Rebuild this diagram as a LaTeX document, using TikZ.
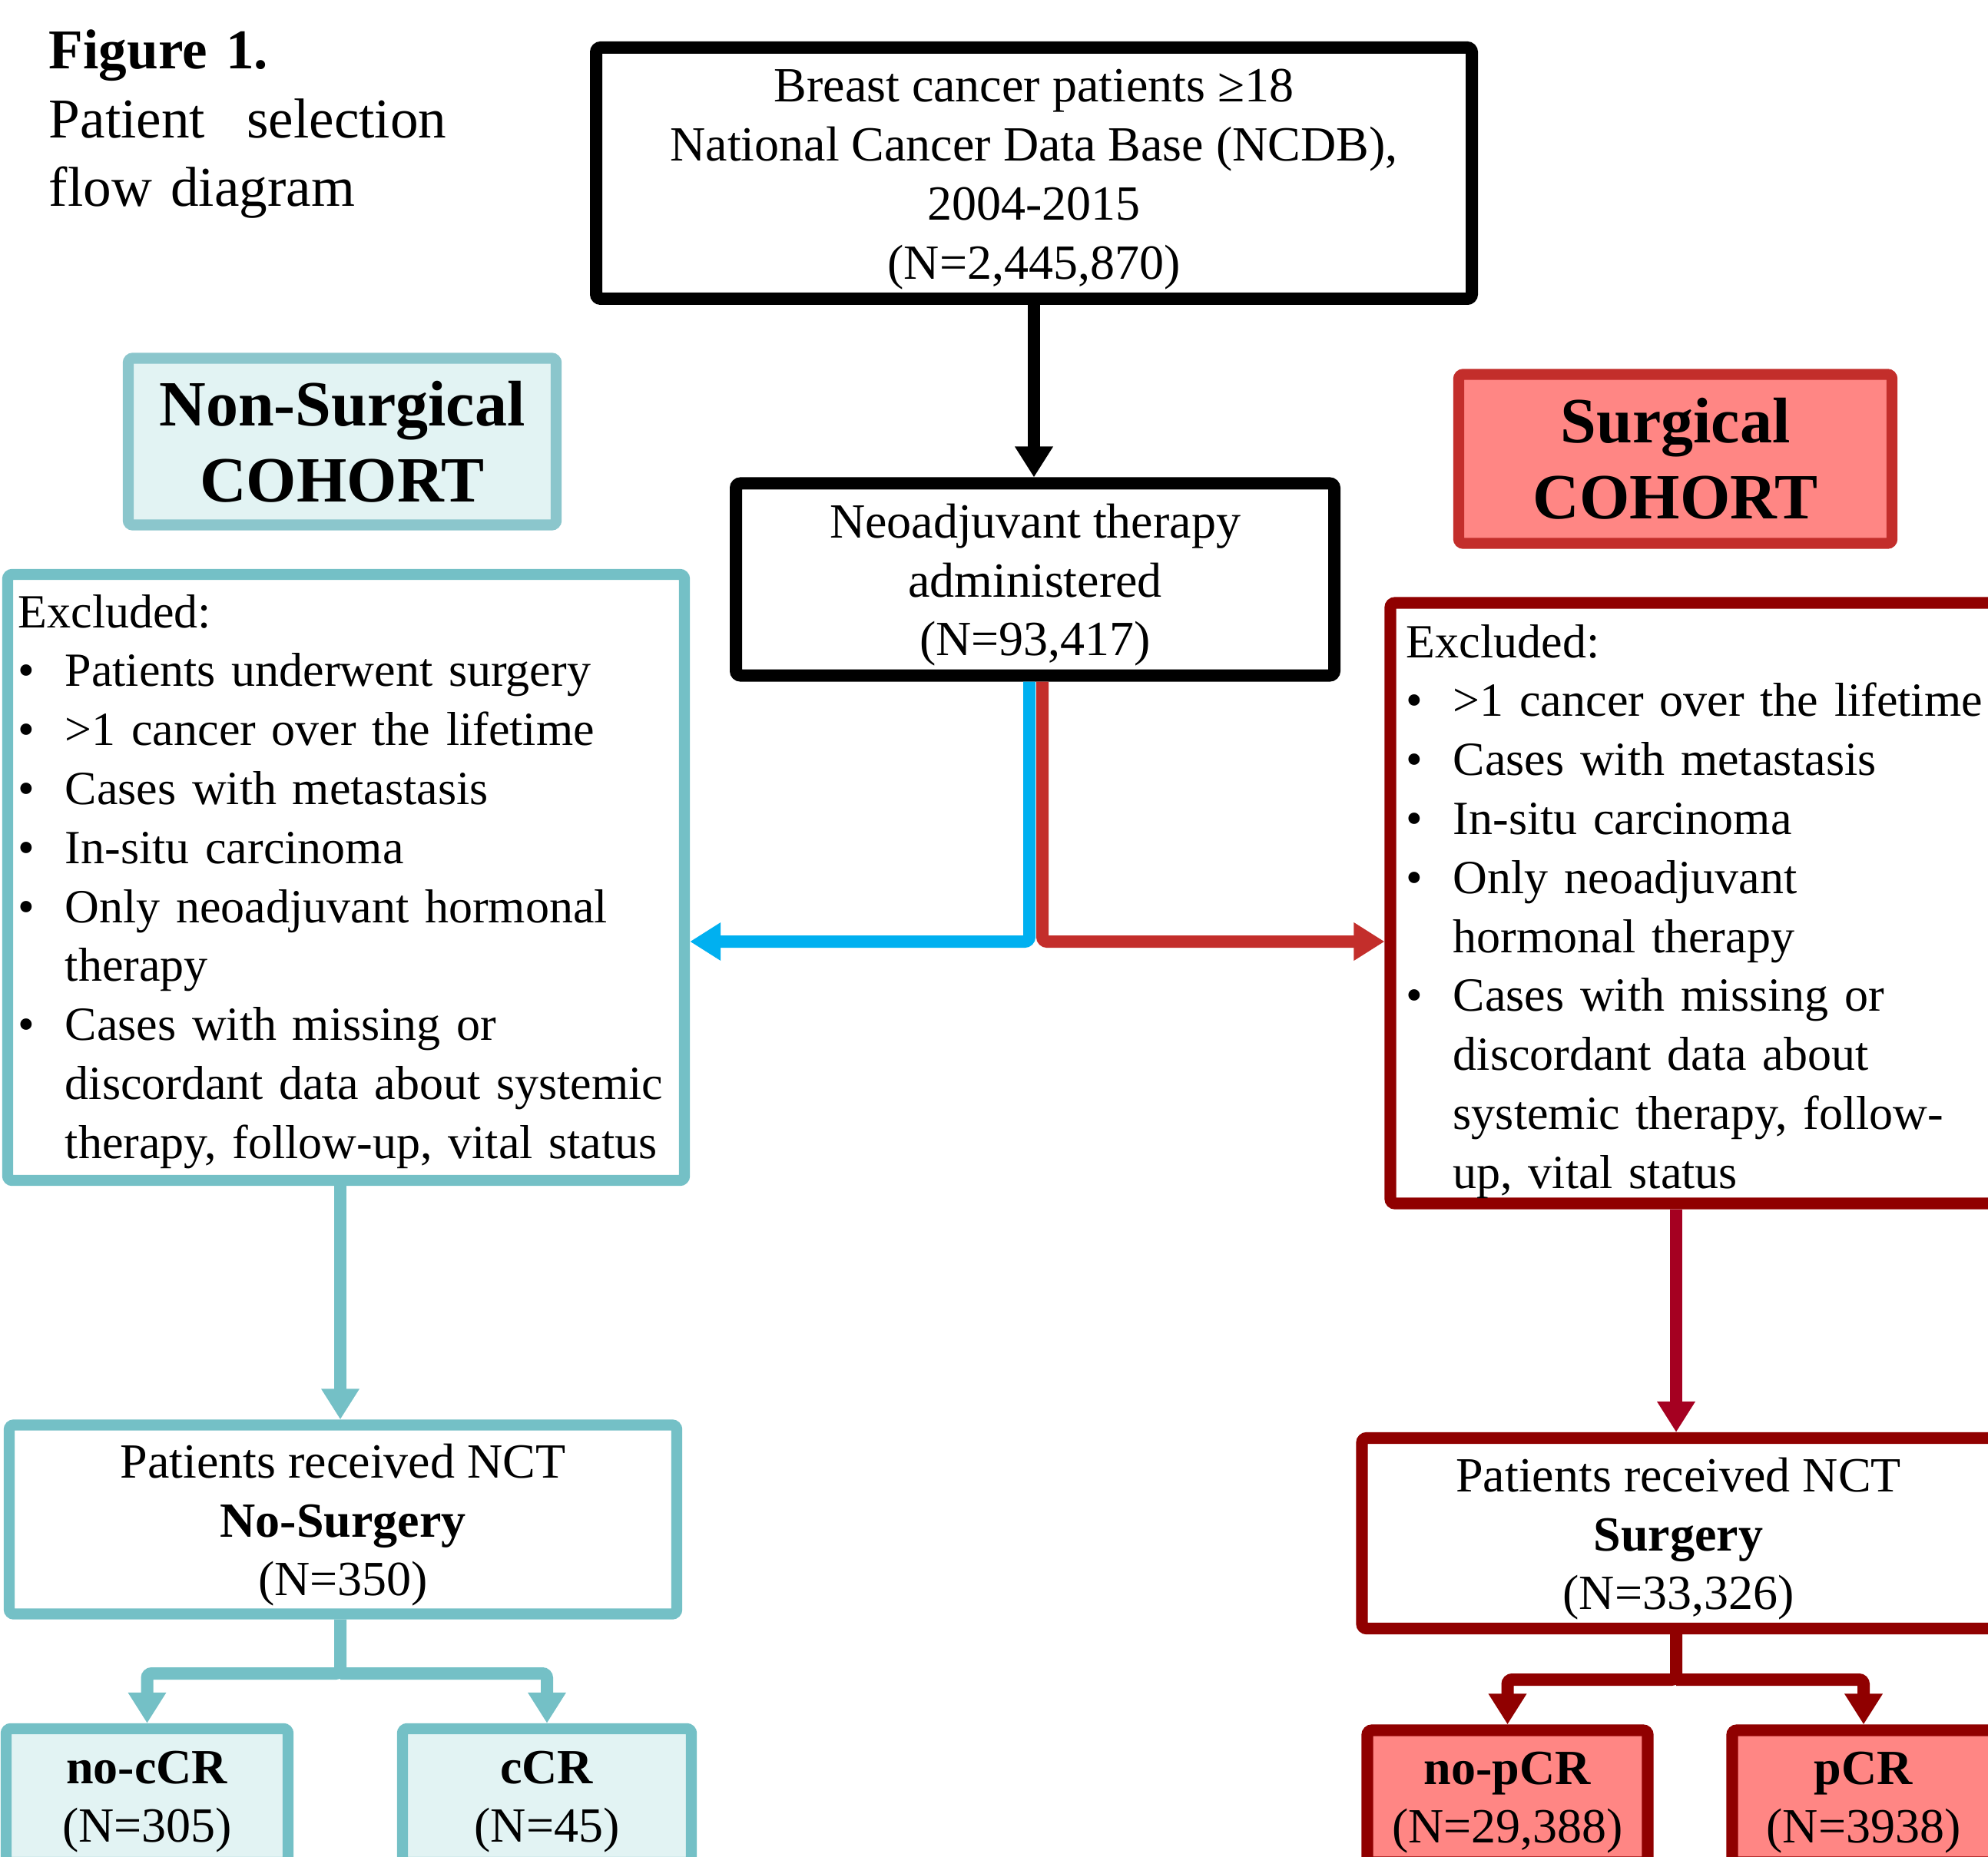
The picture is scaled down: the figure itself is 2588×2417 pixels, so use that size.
\documentclass[tikz,border=0pt]{standalone}
\usepackage{fontspec}
\setmainfont{Liberation Serif}
\usetikzlibrary{arrows.meta,calc}
\definecolor{tealL}{HTML}{74C0C6}
\definecolor{tealB}{HTML}{8BC6CC}
\definecolor{tealF}{HTML}{E2F3F3}
\definecolor{blueA}{HTML}{00B0F0}
\definecolor{redA}{HTML}{C32E2B}
\definecolor{salmonF}{HTML}{FF8684}
\definecolor{dredL}{HTML}{900000}
\definecolor{crimL}{HTML}{A50021}
\newcommand\myBul[1]{\makebox[#1][l]{\textbullet}}
\newcommand\Lines[1]{\raisebox{-1.8pt}[\height][\depth]{\begin{tabular}{@{}c@{}}#1\end{tabular}}}
\begin{document}
\begin{tikzpicture}[x=0.25pt,y=-0.25pt,
  bx/.style={rectangle, inner sep=0pt, align=center, rounded corners=1.5pt,
    font=\fontsize{16}{19.2}\selectfont},
  blackbox/.style={bx, draw=black, line width=4pt},
  tealbox/.style={bx, draw=tealL, line width=3.6pt},
  redbox/.style={bx, draw=dredL, line width=3.8pt},
  cohort/.style={bx, line width=3.6pt, font=\fontsize{21}{24.75}\selectfont\bfseries},
  listtext/.style={anchor=base west, inner sep=0pt, align=left,
    font=\fontsize{15.5}{19.2}\selectfont},
  arr/.style={line width=4pt, -{Triangle[width=11.75pt,length=10pt]},
    rounded corners=1.5pt},
]
\useasboundingbox (0,0) rectangle (2588,2417);
\clip (0,0) rectangle (2588,2417);
\fill[white] (0,0) rectangle (2588,2417);

% title
\node[anchor=base west, inner sep=0pt, align=left, text width=200pt,
  font=\fontsize{18.3}{22.3}\selectfont] (title) at (63,90)
  {\textbf{Figure 1.}\\Patient\hspace{0.74em}selection\\flow diagram};

% main boxes
\node[blackbox, minimum width=285pt, minimum height=81.75pt] (top) at (1346,225.5)
  {\Lines{Breast cancer patients ≥18\\National Cancer Data Base (NCDB),\\2004-2015\\(N=2,445,870)}};
\node[blackbox, minimum width=194.75pt, minimum height=62.5pt] (neo) at (1347.5,754.5)
  {\Lines{Neoadjuvant therapy\\administered\\(N=93,417)}};

% cohort labels
\node[cohort, draw=tealB, fill=tealF, minimum width=139.25pt, minimum height=54.25pt]
  (nsc) at (445.5,575) {Non-Surgical\\COHORT};
\node[cohort, draw=redA, fill=salmonF, minimum width=141pt, minimum height=55pt]
  (sc) at (2181,597.5) {Surgical\\COHORT};

% exclusion boxes
\node[tealbox, minimum width=220.25pt, minimum height=197.25pt] (lexcl) at (450.5,1142.5) {};
\node[listtext, text width=240pt] (ltext) at (23,817)
  {Excluded:\\
   \myBul{15.25pt}Patients underwent surgery\\
   \myBul{15.25pt}>1 cancer over the lifetime\\
   \myBul{15.25pt}Cases with metastasis\\
   \myBul{15.25pt}In-situ carcinoma\\
   \myBul{15.25pt}Only neoadjuvant hormonal\\
   \hspace*{15.25pt}therapy\\
   \myBul{15.25pt}Cases with missing or\\
   \hspace*{15.25pt}discordant data about systemic\\
   \hspace*{15.25pt}therapy, follow-up, vital status};

\node[redbox, minimum width=207.5pt, minimum height=195.5pt] (rexcl) at (2225,1176) {};
\node[listtext, text width=250pt] (rtext) at (1830,856)
  {Excluded:\\
   \myBul{15.25pt}>1 cancer over the lifetime\\
   \myBul{15.25pt}Cases with metastasis\\
   \myBul{15.25pt}In-situ carcinoma\\
   \myBul{15.25pt}Only neoadjuvant\\
   \hspace*{15.25pt}hormonal therapy\\
   \myBul{15.25pt}Cases with missing or\\
   \hspace*{15.25pt}discordant data about\\
   \hspace*{15.25pt}systemic therapy, follow-\\
   \hspace*{15.25pt}up, vital status};

% NCT boxes
\node[tealbox, minimum width=217.25pt, minimum height=61.5pt] (lnct) at (446.5,1978.5)
  {\Lines{Patients received NCT\\\textbf{No-Surgery}\\(N=350)}};
\node[redbox, minimum width=206pt, minimum height=62pt] (rnct) at (2185,1996.5)
  {\Lines{Patients received NCT\\\textbf{Surgery}\\(N=33,326)}};

% outcome boxes
\node[tealbox, fill=tealF, minimum width=91.75pt, minimum height=43.5pt] (nocc) at (191.5,2338)
  {\Lines{\textbf{no-cCR}\\(N=305)}};
\node[tealbox, fill=tealF, minimum width=94pt, minimum height=43.5pt] (cc) at (712,2338)
  {\Lines{\textbf{cCR}\\(N=45)}};
\node[redbox, fill=salmonF, minimum width=91.25pt, minimum height=43pt] (nopc) at (1962.5,2339)
  {\Lines{\textbf{no-pCR}\\(N=29,388)}};
\node[redbox, fill=salmonF, minimum width=85.5pt, minimum height=43pt] (pc) at (2426,2339)
  {\Lines{\textbf{pCR}\\(N=3938)}};

% helper coordinates
\coordinate (xb) at (1340,0);
\coordinate (xr) at (1357,0);
\coordinate (hy) at (0,1226);
\coordinate (stemL) at (443,0);
\coordinate (stemR) at (2182,0);
\coordinate (brL) at (0,2179);
\coordinate (brR) at (0,2187);

% connectors
\draw[arr, black] (top.south) -- (top.south |- neo.north);
\draw[arr, blueA] (neo.south -| xb) -- (xb |- hy) -- (lexcl.east |- hy);
\draw[arr, redA] (neo.south -| xr) -- (xr |- hy) -- (rexcl.west |- hy);
\draw[arr, tealL] (lexcl.south -| stemL) -- (lnct.north -| stemL);
\draw[arr, crimL] (rexcl.south -| stemR) -- (rnct.north -| stemR);
\draw[arr, tealL] (lnct.south -| stemL) -- (stemL |- brL) -| (nocc.north);
\draw[arr, tealL] (stemL |- brL) -| (cc.north);
\draw[arr, dredL] (rnct.south -| stemR) -- (stemR |- brR) -| (nopc.north);
\draw[arr, dredL] (stemR |- brR) -| (pc.north);
\end{tikzpicture}
\end{document}
